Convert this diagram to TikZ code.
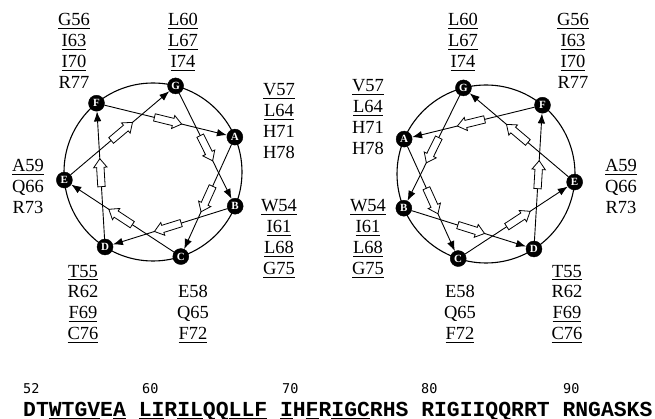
\documentclass[tikz,border=0pt]{standalone}
\usepackage{fontspec}
\setmainfont{Liberation Serif}
\newfontfamily\seqfont{Liberation Mono}
\newfontfamily\numfont{DejaVu Sans Mono}
\usetikzlibrary{arrows.meta,shapes.arrows}
\newbox\ulbox
\newcommand\uln[1]{\setbox\ulbox\hbox{#1}\rlap{\rule[-3.4pt]{\wd\ulbox}{1.1pt}}\box\ulbox}
\newcommand\sul[1]{\setbox\ulbox\hbox{#1}\rlap{\rule[-2.8pt]{\wd\ulbox}{0.8pt}}\box\ulbox}
\newcommand\labblock[4]{%
  \foreach \t [count=\k] in {#4}
    \node[lab] (#1-\k) at (#2,{#3+20.8*(\k-1)}) {\t};}
\tikzset{
  res/.style={circle, fill=black, draw=black, text=white, minimum size=16pt,
    inner sep=0pt, font=\fontsize{11}{11}\selectfont\bfseries},
  chord/.style={line width=0.9pt, -{Latex[length=10pt,width=7.5pt]}},
  hollow/.style={single arrow, draw=black, fill=white, line width=0.8pt,
    minimum height=28pt, inner xsep=0pt, inner ysep=3.3pt,
    single arrow head extend=3pt, single arrow tip angle=75,
    sloped, allow upside down, pos=0.5},
  lab/.style={anchor=base, inner sep=0pt, font=\fontsize{18.5}{21}\selectfont},
  wheel/.style={line width=1.1pt},
  seqtext/.style={anchor=base west, inner sep=0pt,
    font=\seqfont\bfseries\fontsize{21.4}{21.4}\selectfont},
  num/.style={anchor=base west, inner sep=0pt,
    font=\numfont\fontsize{13.5}{13.5}\selectfont},
}
\begin{document}
\begin{tikzpicture}[x=1pt,y=-1pt]
\useasboundingbox (0,0) rectangle (655,419);

% ---------- left wheel ----------
\coordinate (lO) at (153,172);
\draw[wheel] (lO) circle[radius=89];
\path (lO) ++(-75.3:89)  node[res] (lG) {G};
\path (lO) ++(-129.4:89) node[res] (lF) {F};
\path (lO) ++(-23.1:89)  node[res] (lA) {A};
\path (lO) ++(22.6:89)   node[res] (lB) {B};
\path (lO) ++(71.8:89)   node[res] (lC) {C};
\path (lO) ++(122.6:89)  node[res] (lD) {D};
\path (lO) ++(174.8:89)  node[res] (lE) {E};
\draw[chord] (lF) -- node[hollow] (lhFA) {} (lA);
\draw[chord] (lA) -- node[hollow] (lhAC) {} (lC);
\draw[chord] (lC) -- node[hollow] (lhCE) {} (lE);
\draw[chord] (lE) -- node[hollow] (lhEG) {} (lG);
\draw[chord] (lG) -- node[hollow] (lhGB) {} (lB);
\draw[chord] (lB) -- node[hollow] (lhBD) {} (lD);
\draw[chord] (lD) -- node[hollow] (lhDF) {} (lF);

\labblock{lG56}{74}{26}{\uln{G56},\uln{I63},\uln{I70},R77}
\labblock{lL60}{183}{26}{\uln{L60},\uln{L67},\uln{I74}}
\labblock{lV57}{279}{96}{\uln{V57},\uln{L64},H71,H78}
\labblock{lA59}{28}{172}{\uln{A59},Q66,R73}
\labblock{lW54}{279}{212}{\uln{W54},\uln{I61},\uln{L68},\uln{G75}}
\labblock{lT55}{83}{277}{\uln{T55},R62,\uln{F69},\uln{C76}}
\labblock{lE58}{193}{298}{E58,Q65,\uln{F72}}

% ---------- right wheel ----------
\coordinate (rO) at (486,174);
\draw[wheel] (rO) circle[radius=89];
\path (rO) ++(-104.7:89) node[res] (rG) {G};
\path (rO) ++(-50.6:89)  node[res] (rF) {F};
\path (rO) ++(-156.9:89) node[res] (rA) {A};
\path (rO) ++(157.4:89)  node[res] (rB) {B};
\path (rO) ++(108.2:89)  node[res] (rC) {C};
\path (rO) ++(57.4:89)   node[res] (rD) {D};
\path (rO) ++(5.2:89)    node[res] (rE) {E};
\draw[chord] (rF) -- node[hollow] (rhFA) {} (rA);
\draw[chord] (rA) -- node[hollow] (rhAC) {} (rC);
\draw[chord] (rC) -- node[hollow] (rhCE) {} (rE);
\draw[chord] (rE) -- node[hollow] (rhEG) {} (rG);
\draw[chord] (rG) -- node[hollow] (rhGB) {} (rB);
\draw[chord] (rB) -- node[hollow] (rhBD) {} (rD);
\draw[chord] (rD) -- node[hollow] (rhDF) {} (rF);

\labblock{rL60}{463}{26}{\uln{L60},\uln{L67},\uln{I74}}
\labblock{rG56}{573}{26}{\uln{G56},\uln{I63},\uln{I70},R77}
\labblock{rV57}{368}{92}{\uln{V57},\uln{L64},H71,H78}
\labblock{rA59}{621}{172}{\uln{A59},Q66,R73}
\labblock{rW54}{368}{212}{\uln{W54},\uln{I61},\uln{L68},\uln{G75}}
\labblock{rE58}{460}{298}{E58,Q65,\uln{F72}}
\labblock{rT55}{567}{277}{\uln{T55},R62,\uln{F69},\uln{C76}}

% ---------- sequence ----------
\node[num] (n52) at (23,393) {52};
\node[num] (n60) at (142,393) {60};
\node[num] (n70) at (282,393) {70};
\node[num] (n80) at (421,393) {80};
\node[num] (n90) at (563,393) {90};
\node[seqtext] (seq) at (23,416)
  {DT\sul{WTGV}E\sul{A} \sul{LI}R\sul{IL}QQ\sul{LLF} \sul{I}H\sul{F}R\sul{IGC}RHS RIGIIQQRRT RNGASKS};
\end{tikzpicture}
\end{document}
